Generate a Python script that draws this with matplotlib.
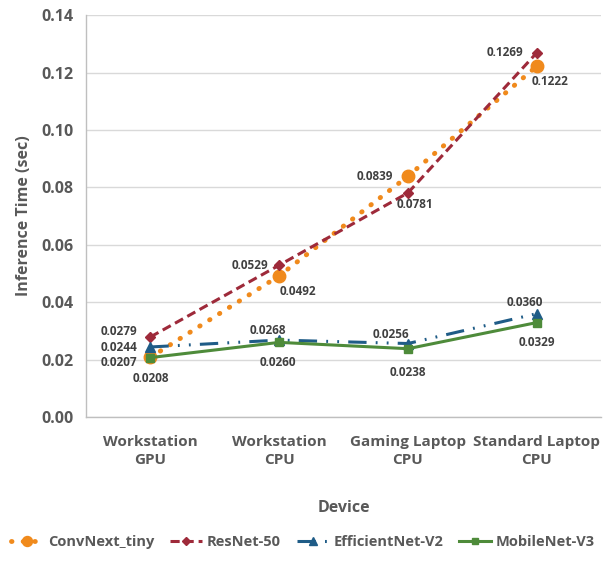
import numpy as np
import matplotlib.pyplot as plt

plt.rcParams['font.family'] = ['Open Sans', 'DejaVu Sans']
plt.rcParams['font.weight'] = 'bold'

devices = ["Workstation\nGPU", "Workstation\nCPU", "Gaming Laptop\nCPU", "Standard Laptop\nCPU"]
convnext = [0.0208, 0.0492, 0.0839, 0.1222]
resnet = [0.0279, 0.0529, 0.0781, 0.1269]
effnet = [0.0244, 0.0268, 0.0256, 0.0360]
mobilenet = [0.0207, 0.0260, 0.0238, 0.0329]

# label offsets in pixels (dx, dy, ha) for each point
convnext_off = [(0, -21, 'center'), (0, -16, 'left'), (-15, 0, 'right'), (-5, -15, 'left')]
resnet_off = [(-13, 5, 'right'), (-11, 0, 'right'), (-11, -12, 'left'), (-14, 0, 'right')]
effnet_off = [(-13, -1, 'right'), (-11, 10, 'center'), (1, 9, 'right'), (-12, 11, 'center')]
mobilenet_off = [(-13, -5, 'right'), (-1, -20, 'center'), (0, -24, 'center'), (0, -20, 'center')]

x = np.arange(len(devices)) + 0.5
txt = '#404040'

fig = plt.figure(figsize=(6.06, 5.62), dpi=100)
ax = fig.add_axes([0.142, 0.258, 0.85, 0.715])

series = [
    ("ConvNext_tiny", convnext, convnext_off, dict(color='#F08A1C', ls=(0, (0.1, 2.3)), lw=3.5,
                                                   dash_capstyle='round', marker='o', ms=9)),
    ("ResNet-50", resnet, resnet_off, dict(color='#9E2A3A', ls=(0, (3, 1.6)), lw=2.2,
                                           marker='D', ms=5.5)),
    ("EfficientNet-V2", effnet, effnet_off, dict(color='#1F5C87', ls=(0, (6, 3, 0.6, 3, 0.6, 3)), lw=2.2,
                                                 marker='^', ms=7)),
    ("MobileNet-V3", mobilenet, mobilenet_off, dict(color='#4E8B3A', ls='-', lw=2.2,
                                                    marker='s', ms=6)),
]

for name, vals, offs, style in series:
    ax.plot(x, vals, label=name, zorder=3, **style)
    for xi, v, (dx, dy, ha) in zip(x, vals, offs):
        ax.annotate(f"{v:.4f}", (xi, v), xytext=(dx, dy), textcoords='offset pixels',
                    ha=ha, va='center', fontsize=8.5, fontweight='bold', color=txt, zorder=4)

ax.set_xlim(0, 4)
ax.set_ylim(0, 0.14)
ax.set_yticks(np.arange(0, 0.141, 0.02))
ax.set_yticklabels([f"{t:.2f}" for t in np.arange(0, 0.141, 0.02)])
ax.set_xticks(x)
ax.set_xticklabels(devices, linespacing=1.35)
ax.tick_params(axis='y', length=0, labelsize=11.5, labelcolor='#595959', pad=9)
ax.tick_params(axis='x', length=0, labelsize=11, labelcolor='#595959', pad=13)
for lbl in ax.get_xticklabels() + ax.get_yticklabels():
    lbl.set_fontweight('bold')
ax.grid(axis='y', color='#D9D9D9', lw=1)
ax.set_axisbelow(True)
for s in ['top', 'right']:
    ax.spines[s].set_visible(False)
for s in ['left', 'bottom']:
    ax.spines[s].set_color('#BFBFBF')
    ax.spines[s].set_linewidth(1)

ax.set_ylabel("Inference Time (sec)", fontsize=11.5, color='#595959', fontweight='bold', labelpad=7)
ax.set_xlabel("Device", fontsize=11.5, color='#595959', fontweight='bold', labelpad=24)

leg = fig.legend(loc='lower center', bbox_to_anchor=(0.5, 0.0), ncol=4, frameon=False,
                 fontsize=10.5, labelcolor='#595959', handlelength=2.2, columnspacing=1.1,
                 handletextpad=0.3, borderaxespad=0.5, markerscale=0.8)
for t in leg.get_texts():
    t.set_fontweight('bold')

fig.savefig("out.png", dpi=100)
